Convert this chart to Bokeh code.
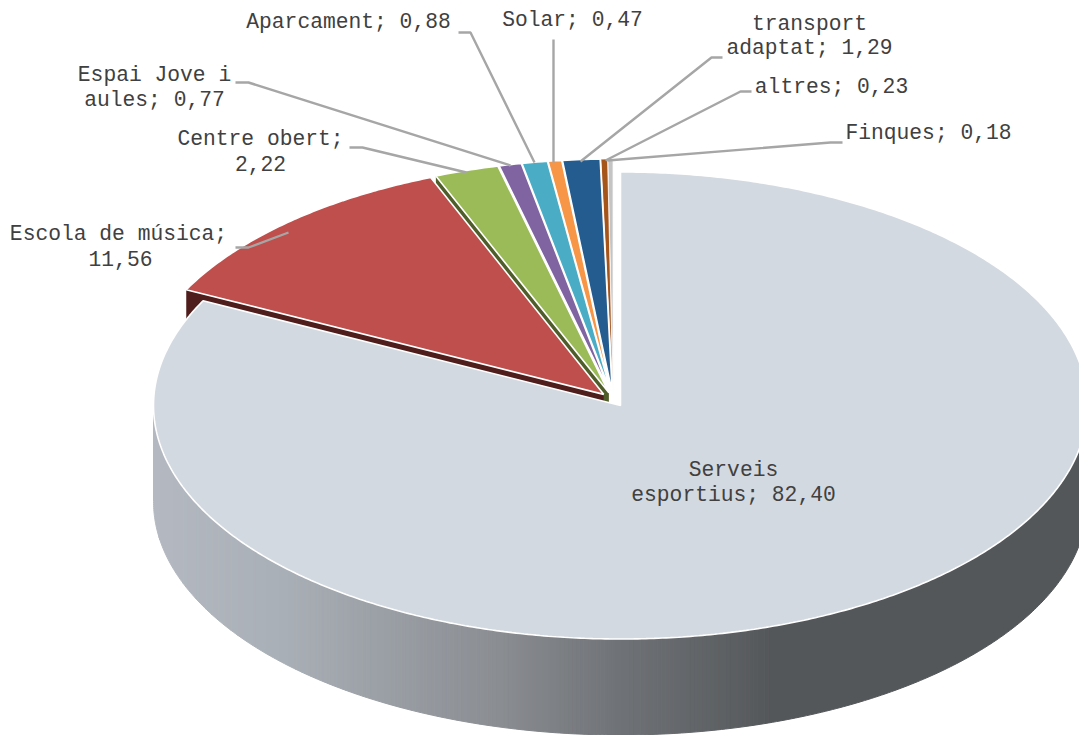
import numpy as np
from bokeh.plotting import figure
from bokeh.models import Range1d
from bokeh.core.properties import value
from bokeh.embed import file_html
from bokeh.resources import INLINE

# ---- data (clockwise from 12 o'clock) ----
categories = ["Serveis esportius", "Escola de música", "Centre obert", "Espai Jove i aules",
              "Aparcament", "Solar", "transport adaptat", "altres", "Finques"]
values = [82.40, 11.56, 2.22, 0.77, 0.88, 0.47, 1.29, 0.23, 0.18]
top_colors = ["#d3d9e1", "#be4f4c", "#9bbb59", "#8064a2", "#4bacc6", "#f79646", "#255c90", "#a5541a", "#c4c4c4"]
face_colors = [None, "#4f1d1b", "#4f5d2a", None, None, None, None, None, None]
outline_widths = [1.6, 1.6, 1.6, 1.6, 1.6, 1.6, 1.6, 0.8, 0.8]

# ---- label layout ----
label_lines = ["Serveis", "esportius; 82,40", "Escola de música;", "11,56", "Centre obert;", "2,22",
               "Espai Jove i", "aules; 0,77", "Aparcament; 0,88", "Solar; 0,47", "transport",
               "adaptat; 1,29", "altres; 0,23", "Finques; 0,18"]
label_x = [733, 733, 118, 120, 260, 260, 154, 154, 348, 572, 809, 809, 831, 928]
label_y = [469, 494, 233, 258, 138, 163, 74, 99, 21, 19, 23, 47, 86, 132]

leader_x = [[235, 248, 288], [349, 362, 466], [235, 248, 510], [458, 470, 534], [553, 553],
            [722, 711, 580], [751, 740, 605], [842, 830, 607]]
leader_y = [[247, 247, 232], [147, 147, 172], [82, 82, 165], [32, 32, 162], [39, 162],
            [57, 57, 161], [91, 91, 160], [142, 142, 160]]

# ---- pie geometry ----
BASE_X, BASE_Y = 612.65, 399.03
RX, RY = 467.0, 233.5
EXPLODE = 0.030
DEPTH = 96.0

wall_stops_x = [153, 284, 499, 619, 739, 769, 1090]
wall_stops_rgb = [(180, 185, 193), (169, 175, 182), (138, 141, 146), (111, 114, 118), (91, 94, 97), (84, 87, 90), (84, 87, 90)]

p = figure(width=1079, height=735, x_range=Range1d(0, 1079), y_range=Range1d(735, 0),
           output_backend="svg", toolbar_location=None, min_border=0, outline_line_color=None,
           background_fill_color="white", border_fill_color="white")
p.axis.visible = False
p.grid.visible = False

total = sum(values)
edges = np.concatenate([[0], np.cumsum(values)]) / total * 2 * np.pi


def center(i):
    mid = (edges[i] + edges[i + 1]) / 2
    return BASE_X + EXPLODE * RX * np.sin(mid), BASE_Y - EXPLODE * RY * np.cos(mid)


def arc(i, a):
    cx, cy = center(i)
    return cx + RX * np.sin(a), cy - RY * np.cos(a)


# gradient wall of the big slice: runs of one colour become one polygon
angs = np.radians(np.arange(90, 270.01, 0.5))
angs = angs[(angs >= edges[0]) & (angs <= edges[1])]
runs = []
for a0, a1 in zip(angs[:-1], angs[1:]):
    xm = (arc(0, a0)[0] + arc(0, a1)[0]) / 2
    rgb = [int(round(np.interp(xm, wall_stops_x, [c[k] for c in wall_stops_rgb]))) for k in range(3)]
    col = "#%02x%02x%02x" % tuple(rgb)
    if runs and runs[-1][0] == col:
        runs[-1][2] = a1
    else:
        runs.append([col, a0, a1])
xs, ys, cols = [], [], []
for col, a0, a1 in runs:
    a = np.linspace(a0, a1, max(2, int(np.degrees(a1 - a0) * 2) + 1))
    ax, ay = arc(0, a)
    xs.append(np.r_[ax, ax[::-1]])
    ys.append(np.r_[ay, ay[::-1] + DEPTH])
    cols.append(col)
p.patches(xs, ys, fill_color=cols, line_color=cols, line_width=1)

# small slices back to front, then the big slice on top
for i in list(range(len(values) - 1, 0, -1)) + [0]:
    cx, cy = center(i)
    if face_colors[i]:
        ox, oy = arc(i, edges[i])
        p.patch([cx, ox, ox, cx], [cy, oy, oy + DEPTH, cy + DEPTH], fill_color=face_colors[i], line_color=None)
    a = np.linspace(edges[i], edges[i + 1], max(3, int(np.degrees(edges[i + 1] - edges[i]) * 2)))
    ax, ay = arc(i, a)
    p.patch(np.r_[cx, ax], np.r_[cy, ay], fill_color=top_colors[i], line_color="white", line_width=outline_widths[i])

# leaders and labels
p.multi_line(leader_x, leader_y, line_color="#a6a6a6", line_width=2.4)
p.text(label_x, label_y, text=label_lines, text_font=value("Liberation Mono"), text_font_size="21.3px",
       text_color="#404040", text_align="center", text_baseline="middle")

open("out.html", "w").write(file_html(p, INLINE))
